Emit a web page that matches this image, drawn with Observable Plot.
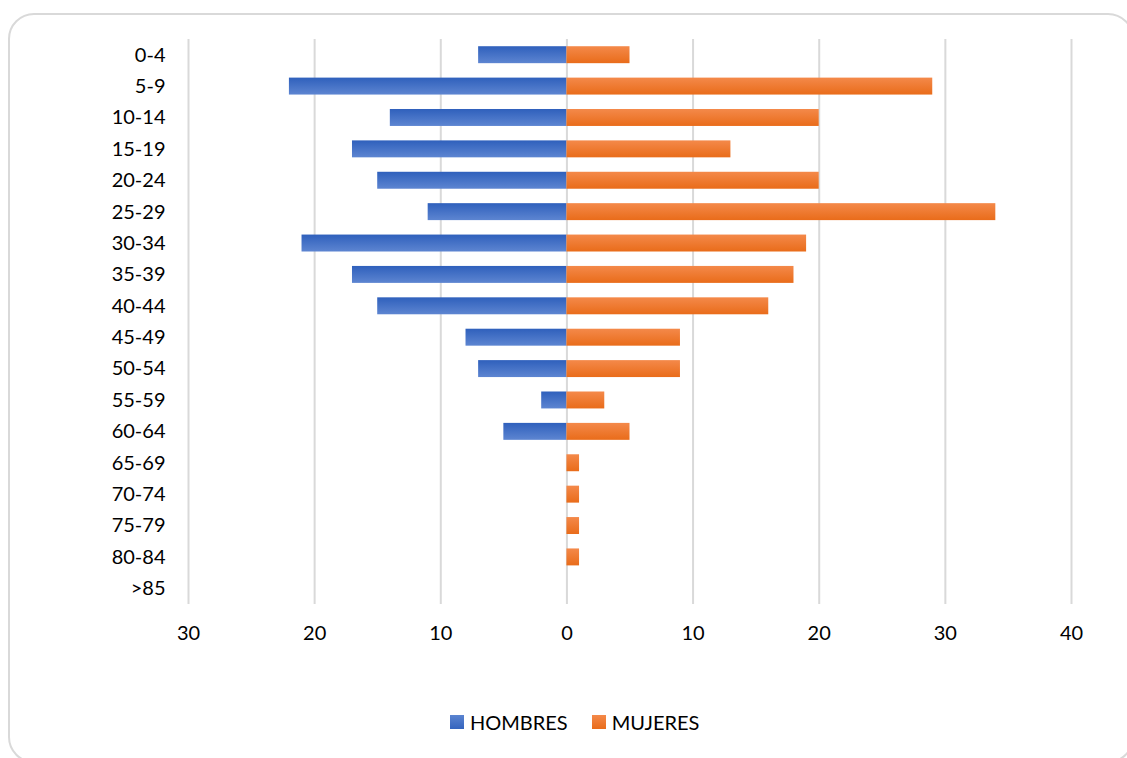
<!DOCTYPE html>
<html>
<head>
<meta charset="utf-8">
<script src="https://cdn.jsdelivr.net/npm/d3@7"></script>
<script src="https://cdn.jsdelivr.net/npm/@observablehq/plot@0.6"></script>
<style>
  html, body { margin: 0; padding: 0; background: #fff; }
  body { width: 1127px; height: 758px; position: relative; overflow: hidden; font-family: Lato, "Open Sans", sans-serif; }
  #frame { position: absolute; left: 8px; top: 13px; width: 1126px; height: 750px; border: 2px solid #d9d9d9; border-radius: 26px; box-sizing: border-box; }
  #chart { position: absolute; left: 0; top: 0; }
  #legend { position: absolute; left: 450px; top: 710px; display: flex; align-items: center; font-size: 20px; color: #000; }
  .sw { width: 14px; height: 14px; display: inline-block; margin-right: 6px; }
  .item { display: flex; align-items: center; margin-right: 24px; }
</style>
</head>
<body>
<div id="frame"></div>
<div id="chart"></div>
<div id="legend">
  <span class="item"><span class="sw" style="background: linear-gradient(#5B84D0, #3464BE);"></span>HOMBRES</span>
  <span class="item"><span class="sw" style="background: linear-gradient(#F4894A, #E96C1A);"></span>MUJERES</span>
</div>
<script>
const ages = ["0-4","5-9","10-14","15-19","20-24","25-29","30-34","35-39","40-44","45-49","50-54","55-59","60-64","65-69","70-74","75-79","80-84",">85"];
const hombres = [7,22,14,17,15,11,21,17,15,8,7,2,5,0,0,0,0,0];
const mujeres = [5,29,20,13,20,34,19,18,16,9,9,3,5,1,1,1,1,0];
const xTicks = [-30,-20,-10,0,10,20,30,40];

const dataH = ages.map((a, i) => ({age: a, value: -hombres[i]}));
const dataM = ages.map((a, i) => ({age: a, value: mujeres[i]}));

const plot = Plot.plot({
  width: 1127,
  height: 690,
  marginLeft: 188,
  marginRight: 56,
  marginTop: 39,
  marginBottom: 86,
  style: {fontFamily: "Lato, 'Open Sans', sans-serif", fontSize: "20px", color: "#000", background: "transparent"},
  x: {domain: [-30, 40], ticks: xTicks, tickFormat: d => Math.abs(d), label: null},
  y: {domain: ages, paddingInner: 0.46, paddingOuter: 0.23, round: false, label: null},
  marks: [
    Plot.ruleX(xTicks, {stroke: "#d9d9d9", strokeWidth: 2}),
    Plot.barX(dataH, {x1: 0, x2: "value", y: "age", fill: "url(#gradBlue)"}),
    Plot.barX(dataM, {x1: 0, x2: "value", y: "age", fill: "url(#gradOrange)"}),
    Plot.axisX({ticks: xTicks, tickFormat: d => Math.abs(d), tickSize: 0, tickPadding: 21, label: null, fontSize: 20}),
    Plot.axisY({tickSize: 0, tickPadding: 23, label: null, fontSize: 20})
  ]
});

const svg = d3.select(plot);
const defs = svg.insert("defs", ":first-child");
const g1 = defs.append("linearGradient").attr("id", "gradBlue").attr("x1", 0).attr("y1", 0).attr("x2", 0).attr("y2", 1);
g1.append("stop").attr("offset", "0%").attr("stop-color", "#2F60BC");
g1.append("stop").attr("offset", "100%").attr("stop-color", "#5D85D1");
const g2 = defs.append("linearGradient").attr("id", "gradOrange").attr("x1", 0).attr("y1", 0).attr("x2", 0).attr("y2", 1);
g2.append("stop").attr("offset", "0%").attr("stop-color", "#F4894A");
g2.append("stop").attr("offset", "100%").attr("stop-color", "#E96C1A");

document.getElementById("chart").appendChild(plot);
</script>
</body>
</html>
